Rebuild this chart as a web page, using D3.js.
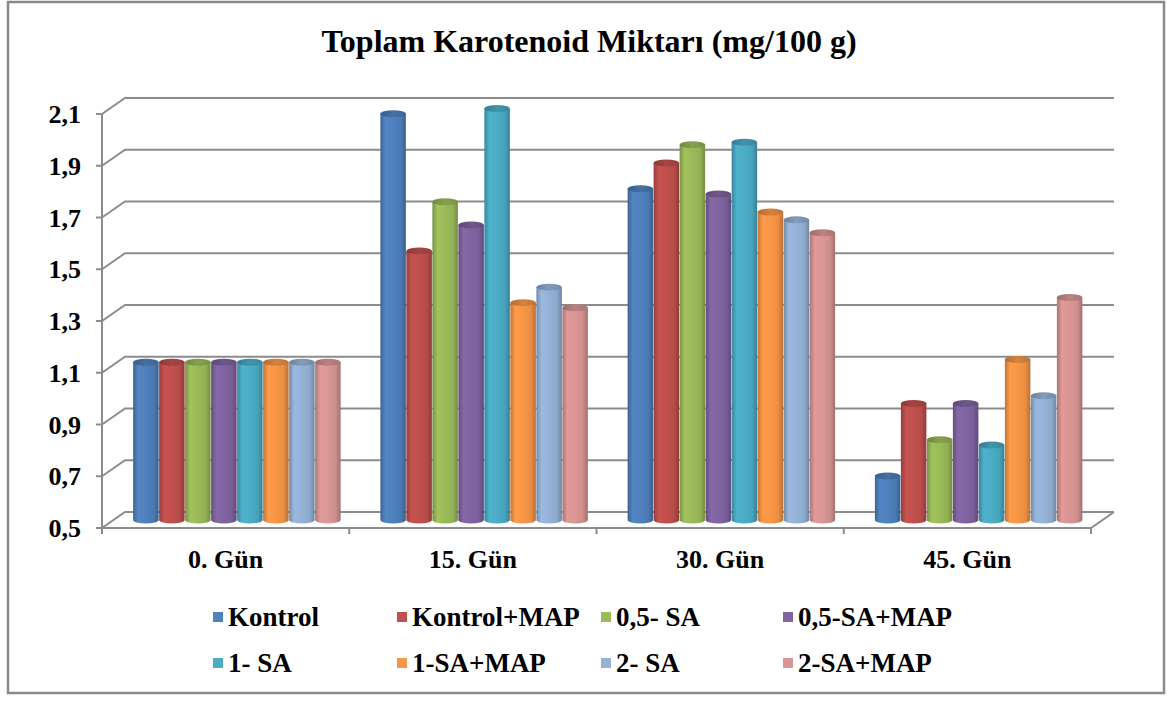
<!DOCTYPE html>
<html>
<head>
<meta charset="utf-8">
<script src="https://d3js.org/d3.v7.min.js"></script>
<style>
body { margin: 0; background: #fff; }
text { font-family: "Liberation Serif", "Times New Roman", serif; font-weight: bold; fill: #000; }
</style>
</head>
<body>
<svg width="1172" height="701"></svg>
<script>
// data
var days = ["0. Gün", "15. Gün", "30. Gün", "45. Gün"];
var groups = ["Kontrol", "Kontrol+MAP", "0,5- SA", "0,5-SA+MAP", "1- SA", "1-SA+MAP", "2- SA", "2-SA+MAP"];
var colors = ["#4F81BD", "#C0504D", "#9BBB59", "#8064A2", "#4BACC6", "#F79646", "#95B3D7", "#D99694"];

var kontrol    = [1.11, 2.07, 1.78, 0.67];
var kontrolMap = [1.11, 1.54, 1.88, 0.95];
var sa05       = [1.11, 1.73, 1.95, 0.81];
var sa05Map    = [1.11, 1.64, 1.76, 0.95];
var sa1        = [1.11, 2.09, 1.96, 0.79];
var sa1Map     = [1.11, 1.34, 1.69, 1.12];
var sa2        = [1.11, 1.40, 1.66, 0.98];
var sa2Map     = [1.11, 1.32, 1.61, 1.36];
var values = [kontrol, kontrolMap, sa05, sa05Map, sa1, sa1Map, sa2, sa2Map];

var yTicks = [0.5, 0.7, 0.9, 1.1, 1.3, 1.5, 1.7, 1.9, 2.1];

var svg = d3.select("svg");

var plotL = 102, plotR = 1091, plotB = 528, plotT = 114;
var dx = 23, dy = -16;   // depth of the 3d box
var groupW = 208;

var x0 = d3.scaleBand().domain(days).range([plotL, plotR]);
var x1 = d3.scaleBand().domain(groups).range([0, groupW]);
var y = d3.scaleLinear().domain([0.5, 2.1]).range([plotB, plotT]);
var fmt = function(d) { return d3.format(".1f")(d).replace(".", ","); };

// outer frame
svg.append("rect")
    .attr("x", 8).attr("y", 2)
    .attr("width", 1156).attr("height", 691)
    .attr("fill", "#fff")
    .attr("stroke", "#8a8a8a")
    .attr("stroke-width", 2.5);

svg.append("text")
    .attr("x", 589)
    .attr("y", 52)
    .attr("text-anchor", "middle")
    .attr("font-size", 32)
    .text("Toplam Karotenoid Miktarı (mg/100 g)");

// gradients for the cylinders
var defs = svg.append("defs");
colors.forEach(function(c, i) {
  var base = d3.color(c);
  var g = defs.append("linearGradient").attr("id", "body" + i)
      .attr("x1", 0).attr("x2", 1).attr("y1", 0).attr("y2", 0);
  g.append("stop").attr("offset", "0%").attr("stop-color", base.darker(0.7));
  g.append("stop").attr("offset", "20%").attr("stop-color", base.brighter(0.1));
  g.append("stop").attr("offset", "50%").attr("stop-color", base);
  g.append("stop").attr("offset", "80%").attr("stop-color", base.darker(0.15));
  g.append("stop").attr("offset", "100%").attr("stop-color", base.darker(0.8));
  var t = defs.append("linearGradient").attr("id", "top" + i)
      .attr("x1", 0).attr("x2", 1).attr("y1", 0).attr("y2", 0);
  t.append("stop").attr("offset", "0%").attr("stop-color", base.darker(0.9));
  t.append("stop").attr("offset", "50%").attr("stop-color", base.darker(0.4));
  t.append("stop").attr("offset", "100%").attr("stop-color", base.darker(0.7));
});

// back wall gridlines + side wall diagonals
var grid = svg.append("g").attr("stroke", "#8c8c8c").attr("stroke-width", 2).attr("fill", "none");
grid.selectAll(".back")
  .data(yTicks)
  .enter().append("path")
    .attr("d", function(d) {
      return "M" + plotL + "," + y(d) + "L" + (plotL + dx) + "," + (y(d) + dy) + "L" + (plotR + dx) + "," + (y(d) + dy);
    });

// floor right edge and front edge
grid.append("path")
    .attr("d", "M" + (plotR + dx) + "," + (plotB + dy) + "L" + plotR + "," + plotB + "L" + plotL + "," + plotB);

// y axis
grid.append("line")
    .attr("x1", plotL).attr("x2", plotL)
    .attr("y1", plotT).attr("y2", plotB);
grid.selectAll(".ytick")
  .data(yTicks)
  .enter().append("line")
    .attr("x1", plotL - 6).attr("x2", plotL)
    .attr("y1", function(d) { return y(d); })
    .attr("y2", function(d) { return y(d); });

// x ticks
grid.selectAll(".xtick")
  .data(days.map(function(d) { return x0(d); }).concat([plotR]))
  .enter().append("line")
    .attr("x1", function(d) { return d; }).attr("x2", function(d) { return d; })
    .attr("y1", plotB).attr("y2", plotB + 6);

svg.selectAll(".ylab")
  .data(yTicks)
  .enter().append("text")
    .attr("x", 81)
    .attr("y", function(d) { return y(d); })
    .attr("dy", "0.35em")
    .attr("text-anchor", "end")
    .attr("font-size", 26)
    .text(fmt);

svg.selectAll(".xlab")
  .data(days)
  .enter().append("text")
    .attr("x", function(d) { return x0(d) + x0.bandwidth() / 2; })
    .attr("y", 568)
    .attr("text-anchor", "middle")
    .attr("font-size", 26)
    .text(function(d) { return d; });

// cylinders
var ry = 3.5;
var bars = svg.append("g");
groups.forEach(function(gname, i) {
  days.forEach(function(day, j) {
    var xl = x0(day) + (x0.bandwidth() - groupW) / 2 + x1(gname) + dx / 2;
    var w = x1.bandwidth() - 0.5;
    var xr = xl + w;
    var yt = y(values[i][j]) + dy / 2;
    var yb = y(0.5) + dy / 2;
    bars.append("path")
        .attr("d", "M" + xl + "," + yt + "L" + xl + "," + yb +
              "A" + (w / 2) + "," + ry + " 0 0 0 " + xr + "," + yb +
              "L" + xr + "," + yt + "Z")
        .attr("fill", "url(#body" + i + ")");
    bars.append("ellipse")
        .attr("cx", xl + w / 2).attr("cy", yt)
        .attr("rx", w / 2).attr("ry", ry)
        .attr("fill", "url(#top" + i + ")");
  });
});

// legend
var legX = [213, 397, 601, 783], legY = [617, 663];
var leg = svg.selectAll(".leg")
  .data(groups)
  .enter().append("g")
    .attr("transform", function(d, i) { return "translate(" + legX[i % 4] + "," + legY[Math.floor(i / 4)] + ")"; });
leg.append("rect")
    .attr("x", 0).attr("y", -5)
    .attr("width", 10).attr("height", 10)
    .attr("fill", function(d, i) { return colors[i]; });
leg.append("text")
    .attr("x", 15)
    .attr("dy", "0.35em")
    .attr("font-size", 27)
    .text(function(d) { return d; });
</script>
</body>
</html>
